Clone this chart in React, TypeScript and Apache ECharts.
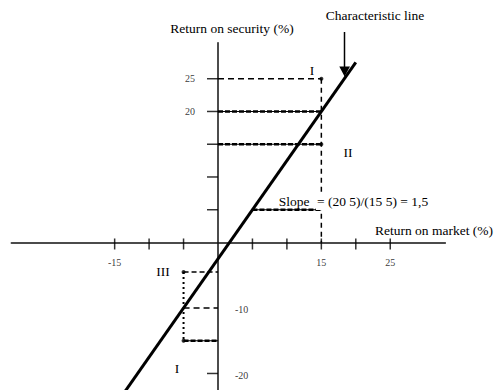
import React, { useEffect, useRef } from "react";
import * as echarts from "echarts";

// Axis ranges (percent)
const xRange = [-30, 33];
const yRange = [-22.5, 30.5];

// Tick marks and tick labels
const xTickValues = [-15, -10, -5, 5, 10, 15, 20, 25];
const yTickValues = [25, 20, 15, 10, 5, -20];
const xTickLabels = [-15, 15, 25];
const yTickLabelsLeft = [25, 20];
const yTickLabelsRight = [-10, -20];

// Characteristic line (return on market %, return on security %)
const characteristicLine = [
  [-14, -23.5],
  [20, 27.5],
];

// Guide segments
const line25 = [
  [0, 25],
  [15, 25],
];
const vertical15 = [
  [15, 25],
  [15, 0],
];
const line20 = [
  [0, 20],
  [15, 20],
];
const line15 = [
  [0, 15],
  [15, 15],
];
const line5 = [
  [5, 5],
  [15, 5],
];
const lineIII = [
  [-5, -4.5],
  [0, -4.5],
];
const verticalNeg5 = [
  [-5, -4.5],
  [-5, -15],
];
const lineNeg10 = [
  [-5, -10],
  [0, -10],
];
const lineNeg15 = [
  [-5, -15],
  [0, -15],
];
const points = [
  [15, 25],
  [15, 15],
  [-5, -4.5],
  [-5, -15],
];

const FONT = "Liberation Serif";
const INK = "#000";

function dashed(data: number[][], width: number, dash: number[]) {
  return {
    type: "line",
    data,
    symbol: "none",
    silent: true,
    lineStyle: { color: INK, width, type: dash },
    z: 3,
  };
}
function solid(data: number[][], width: number) {
  return {
    type: "line",
    data,
    symbol: "none",
    silent: true,
    lineStyle: { color: INK, width, type: "solid" },
    z: 3,
  };
}

export default function App() {
  const ref = useRef<HTMLDivElement>(null);
  useEffect(() => {
    if (!ref.current) return;
    const chart = echarts.init(ref.current, null, { renderer: "svg" });
    const text = (
      t: string,
      x: number,
      y: number,
      align = "center",
      size = 13.5,
      bg?: string
    ) => ({
      type: "text",
      x,
      y,
      z: 10,
      style: {
        text: t,
        fill: INK,
        fontSize: size,
        fontFamily: FONT,
        align,
        verticalAlign: "middle",
        ...(bg ? { backgroundColor: bg, padding: [2, 1] } : {}),
      },
    });
    const axisCommon = {
      type: "value",
      axisLine: { show: true, onZero: true, lineStyle: { color: "#111", width: 1.5 } },
      axisTick: { show: false },
      axisLabel: { show: false },
      splitLine: { show: false },
    };
    chart.setOption({
      animation: false,
      backgroundColor: "#fff",
      grid: {
        left: 11.3,
        top: 42.7,
        width: 434.07,
        height: 347.15,
        containLabel: false,
        outerBoundsMode: "none",
      },
      xAxis: { ...axisCommon, min: xRange[0], max: xRange[1] },
      yAxis: { ...axisCommon, min: yRange[0], max: yRange[1] },
      series: [
        // ticks
        {
          type: "scatter",
          data: xTickValues.map((v) => [v, 0]),
          symbol: "rect",
          symbolSize: [1.5, 11],
          symbolOffset: [0, 1.5],
          itemStyle: { color: INK },
          silent: true,
          z: 2,
        },
        {
          type: "scatter",
          data: yTickValues.map((v) => [0, v]),
          symbol: "rect",
          symbolSize: [11, 1.5],
          symbolOffset: [-5.5, 0],
          itemStyle: { color: INK },
          silent: true,
          z: 2,
        },
        // tick labels
        {
          type: "scatter",
          data: xTickLabels.map((v) => [v, 0]),
          symbolSize: 0,
          silent: true,
          label: {
            show: true,
            position: "bottom",
            distance: 15,
            formatter: (p: any) => String(p.value[0]),
            fontSize: 10,
            fontFamily: FONT,
            color: INK,
          },
        },
        {
          type: "scatter",
          data: yTickLabelsLeft.map((v) => [0, v]),
          symbolSize: 0,
          silent: true,
          label: {
            show: true,
            position: "left",
            distance: 23,
            formatter: (p: any) => String(p.value[1]),
            fontSize: 10,
            fontFamily: FONT,
            color: INK,
          },
        },
        {
          type: "scatter",
          data: yTickLabelsRight.map((v) => [0, v]),
          symbolSize: 0,
          silent: true,
          label: {
            show: true,
            position: "right",
            distance: 17,
            offset: [0, 2],
            formatter: (p: any) => String(p.value[1]),
            fontSize: 10,
            fontFamily: FONT,
            color: INK,
          },
        },
        // guides
        dashed(line25, 1.5, [6, 4]),
        dashed(vertical15, 1.5, [5, 4]),
        solid(line20, 1.2),
        dashed(line20, 2.6, [5, 2]),
        solid(line15, 1.2),
        dashed(line15, 2.6, [5, 2]),
        solid(line5, 1.2),
        dashed(line5, 2.6, [5, 2]),
        dashed(lineIII, 1.5, [5, 3]),
        dashed(verticalNeg5, 2, [2, 3]),
        dashed(lineNeg10, 1.5, [6, 4]),
        solid(lineNeg15, 1.2),
        dashed(lineNeg15, 2.6, [5, 2]),
        {
          type: "scatter",
          data: points,
          symbol: "circle",
          symbolSize: 4,
          itemStyle: { color: INK },
          silent: true,
          z: 4,
        },
        // characteristic line
        {
          type: "line",
          data: characteristicLine,
          symbol: "none",
          silent: true,
          lineStyle: { color: INK, width: 3 },
          z: 5,
        },
      ],
      graphic: [
        text("Return on security (%)", 232, 28),
        text("Characteristic line", 375, 15),
        text("Return on market (%)", 375, 230, "left"),
        text("Slope", 294, 201),
        text("= (20 5)/(15 5) = 1,5", 316, 201, "left", 13.5, "#fff"),
        text("I", 312, 70),
        text("II", 348, 152),
        text("III", 163, 271),
        text("I", 177, 368),
        {
          type: "line",
          z: 10,
          shape: { x1: 344.5, y1: 32, x2: 344.5, y2: 68 },
          style: { stroke: INK, lineWidth: 1.5 },
        },
        {
          type: "polygon",
          z: 10,
          shape: {
            points: [
              [339.3, 66.5],
              [350, 66.5],
              [344.6, 76.5],
            ],
          },
          style: { fill: INK },
        },
      ],
    });
    return () => chart.dispose();
  }, []);
  return (
    <div
      ref={ref}
      style={{ position: "fixed", left: 0, top: 0, width: 498, height: 390, background: "#fff" }}
    />
  );
}
